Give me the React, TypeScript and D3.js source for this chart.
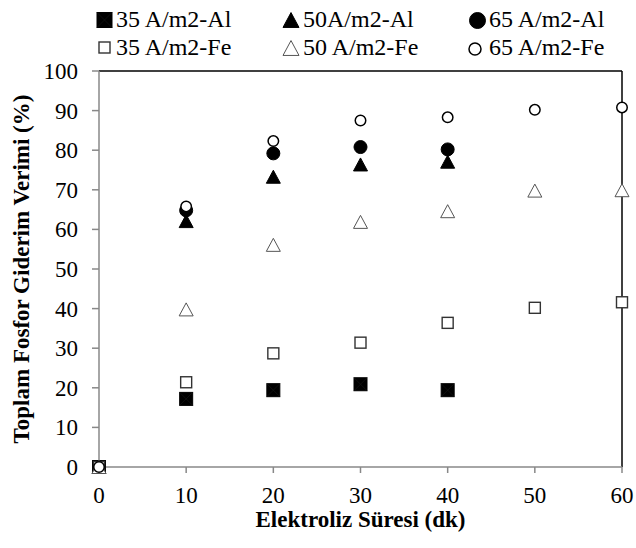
import React from "react";
import * as d3 from "d3";

const timeAl = [0, 10, 20, 30, 40];
const timeFe = [0, 10, 20, 30, 40, 50, 60];
const al35 = [0, 17.2, 19.4, 20.9, 19.4];
const al50 = [0, 62.1, 73.3, 76.4, 77.1];
const al65 = [0, 64.8, 79.2, 80.8, 80.2];
const fe35 = [0, 21.4, 28.7, 31.4, 36.4, 40.2, 41.6];
const fe50 = [0, 39.8, 56.1, 61.9, 64.6, 69.8, 69.9];
const fe65 = [0, 65.8, 82.3, 87.5, 88.3, 90.2, 90.8];
const seriesNames = ["35 A/m2-Al", "50A/m2-Al", "65 A/m2-Al", "35 A/m2-Fe", "50 A/m2-Fe", "65 A/m2-Fe"];
const yTicks = [0, 10, 20, 30, 40, 50, 60, 70, 80, 90, 100];
const xTicks = [0, 10, 20, 30, 40, 50, 60];

const W = 636, H = 548;
const L = 99, R = 622, T = 71, B = 467;
const FONT = "Liberation Serif, Times New Roman, Times, serif";

type Shape = "sq" | "tri" | "circ";
interface Sty { shape: Shape; filled: boolean; size: number; stroke: string; sw: number; }

function Marker({ cx, cy, s }: { cx: number; cy: number; s: Sty }) {
  const fill = s.filled ? "#000" : "#fff";
  const h = s.size / 2;
  if (s.shape === "sq") {
    return (
      <g>
        <rect x={cx - h} y={cy - h} width={s.size} height={s.size} fill={fill} stroke={s.stroke} strokeWidth={s.sw} />
        {s.filled && (
          <path d={`M${cx - h},${cy - h}L${cx + h},${cy + h}M${cx + h},${cy - h}L${cx - h},${cy + h}`} stroke="#1a1a1a" strokeWidth={0.6} />
        )}
      </g>
    );
  }
  if (s.shape === "tri") {
    const th = s.size * 0.93;
    const p = d3.path();
    p.moveTo(cx, cy - th / 2);
    p.lineTo(cx + h, cy + th / 2);
    p.lineTo(cx - h, cy + th / 2);
    p.closePath();
    return <path d={p.toString()} fill={fill} stroke={s.stroke} strokeWidth={s.sw} strokeLinejoin="miter" />;
  }
  return <circle cx={cx} cy={cy} r={h} fill={fill} stroke={s.stroke} strokeWidth={s.sw} />;
}

const styles: Sty[] = [
  { shape: "sq", filled: true, size: 13, stroke: "#000", sw: 1 },
  { shape: "tri", filled: true, size: 14, stroke: "#000", sw: 1 },
  { shape: "circ", filled: true, size: 13, stroke: "#000", sw: 1 },
  { shape: "sq", filled: false, size: 11, stroke: "#333", sw: 1.4 },
  { shape: "tri", filled: false, size: 14, stroke: "#555", sw: 1 },
  { shape: "circ", filled: false, size: 10.5, stroke: "#000", sw: 1.5 },
];

const txt: React.CSSProperties = { fontFamily: FONT };

export default function App() {
  const x = d3.scaleLinear().domain([0, 60]).range([L, R]);
  const y = d3.scaleLinear().domain([0, 100]).range([B, T]);
  const series = [
    { t: timeAl, v: al35 },
    { t: timeAl, v: al50 },
    { t: timeAl, v: al65 },
    { t: timeFe, v: fe35 },
    { t: timeFe, v: fe50 },
    { t: timeFe, v: fe65 },
  ];
  const legendPos = [
    { mx: 104.5, tx: 116, cy: 20, by: 27 },
    { mx: 291, tx: 303, cy: 20, by: 27 },
    { mx: 477.5, tx: 489, cy: 20.5, by: 27 },
    { mx: 104.5, tx: 116, cy: 47.5, by: 55 },
    { mx: 291, tx: 303, cy: 48, by: 55 },
    { mx: 475, tx: 489, cy: 49, by: 55 },
  ];
  const legendSizes = [15, 16, 16, 11, 16, 12];

  return (
    <svg width={W} height={H} style={{ position: "absolute", left: 0, top: 0, background: "#fff", fontFamily: FONT }}>
      <rect width={W} height={H} fill="#fff" />
      <line x1={L} y1={T} x2={R} y2={T} stroke="#000" strokeWidth={1.5} />
      <line x1={R} y1={T} x2={R} y2={B} stroke="#000" strokeWidth={1.5} />
      <line x1={L} y1={T} x2={L} y2={B} stroke="#888" strokeWidth={1.5} />
      <line x1={L} y1={B} x2={R} y2={B} stroke="#888" strokeWidth={1.5} />
      {yTicks.map((t) => (
        <g key={"y" + t}>
          <line x1={L - 7} x2={L} y1={y(t)} y2={y(t)} stroke="#888" strokeWidth={1.5} />
          <text style={txt} x={78} y={y(t)} dy="0.35em" textAnchor="end" fontSize={23} fill="#000">{t}</text>
        </g>
      ))}
      {xTicks.map((t) => (
        <g key={"x" + t}>
          <line x1={x(t)} x2={x(t)} y1={B} y2={B + 6} stroke="#888" strokeWidth={1.5} />
          <text style={txt} x={x(t)} y={503} textAnchor="middle" fontSize={23} fill="#000">{t}</text>
        </g>
      ))}
      <text style={txt} x={(L + R) / 2} y={527} textAnchor="middle" fontSize={23} fontWeight="bold">Elektroliz Süresi (dk)</text>
      <text style={txt} transform={`translate(29,${(T + B) / 2}) rotate(-90)`} textAnchor="middle" fontSize={23} fontWeight="bold">Toplam Fosfor Giderim Verimi (%)</text>
      {series.map((s, i) => (
        <g key={"s" + i}>
          {s.t.map((t, j) => (
            <Marker key={j} cx={x(t)} cy={y(s.v[j])} s={styles[i]} />
          ))}
        </g>
      ))}
      {seriesNames.map((n, i) => (
        <g key={"l" + i}>
          <Marker cx={legendPos[i].mx} cy={legendPos[i].cy} s={{ ...styles[i], size: legendSizes[i] }} />
          <text style={txt} x={legendPos[i].tx} y={legendPos[i].by} fontSize={24} fill="#000">{n}</text>
        </g>
      ))}
    </svg>
  );
}
